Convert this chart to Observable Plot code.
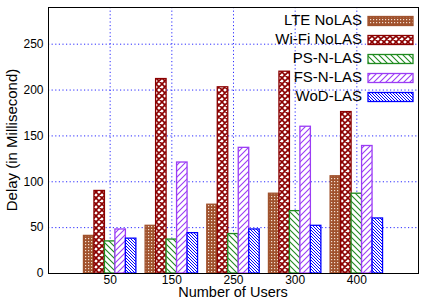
<!DOCTYPE html>
<html>
<head>
<meta charset="utf-8">
<script src="https://cdn.jsdelivr.net/npm/d3@7"></script>
<script src="https://cdn.jsdelivr.net/npm/@observablehq/plot@0.6"></script>
<style>
  html, body { margin: 0; padding: 0; background: #fff; }
  #chart { width: 423px; height: 300px; }
</style>
</head>
<body>
<div id="chart"></div>
<script>
// ---- data ----
const categories = ["50", "150", "250", "300", "400"];
const seriesNames = ["LTE NoLAS", "Wi-Fi NoLAS", "PS-N-LAS", "FS-N-LAS", "WoD-LAS"];
const lteNoLAS   = [41, 52, 75, 87, 106];
const wifiNoLAS  = [90, 212, 203, 220, 176];
const psNLAS     = [35, 37, 43, 68, 87];
const fsNLAS     = [48, 121, 137, 160, 139];
const wodLAS     = [38, 44, 48, 52, 60];
const yTicks = [0, 50, 100, 150, 200, 250];

const seriesValues = [lteNoLAS, wifiNoLAS, psNLAS, fsNLAS, wodLAS];
const seriesColors = ["#a0522d", "#8b0000", "#1f8a1f", "#9b3cf5", "#0000ff"];
const seriesPatterns = ["url(#p-lte)", "url(#p-wifi)", "url(#p-ps)", "url(#p-fs)", "url(#p-wod)"];

const rows = categories.flatMap((c, ci) =>
  seriesNames.map((s, si) => ({ci, si, cat: c, series: s, value: seriesValues[si][ci]}))
);

const groupWidth = 0.85;
const barW = groupWidth / seriesNames.length;

const W = 423, H = 300;
const mL = 48, mR = 5, mT = 7, mB = 27;

const plot = Plot.plot({
  width: W,
  height: H,
  marginLeft: mL,
  marginRight: mR,
  marginTop: mT,
  marginBottom: mB,
  style: {fontFamily: "'Liberation Sans', Arial, sans-serif", fontSize: "12px", background: "white", color: "black"},
  x: {domain: [-1, categories.length], ticks: categories.map((_, i) => i), tickFormat: i => categories[i], tickSize: 0, tickPadding: 2, label: null},
  y: {domain: [0, 290], ticks: yTicks, tickSize: 0, tickPadding: 5, label: null},
  color: {type: "identity"},
  marks: [
    Plot.ruleY(yTicks.filter(v => v > 0), {stroke: "#2b2bff", strokeDasharray: "1.2,2.4", strokeWidth: 1}),
    Plot.ruleX(categories.map((_, i) => i), {stroke: "#2b2bff", strokeDasharray: "1.2,2.4", strokeWidth: 1}),
    Plot.rectY(rows, {
      x1: d => d.ci - groupWidth / 2 + d.si * barW,
      x2: d => d.ci - groupWidth / 2 + (d.si + 1) * barW,
      y1: 0,
      y2: "value",
      fill: d => seriesPatterns[d.si],
      stroke: d => seriesColors[d.si],
      strokeWidth: 1.3
    }),
    Plot.frame({stroke: "black", strokeWidth: 1})
  ]
});

const svg = d3.select(plot);
const defs = svg.insert("defs", ":first-child");

// LTE: brown with light dots
let p = defs.append("pattern").attr("id", "p-lte").attr("patternUnits", "userSpaceOnUse").attr("width", 3).attr("height", 3);
p.append("rect").attr("width", 3).attr("height", 3).attr("fill", "#a0522d");
p.append("rect").attr("x", 1).attr("y", 1).attr("width", 1.2).attr("height", 1.2).attr("fill", "#f3ddd0");

// Wi-Fi: dark red crosshatch on white
p = defs.append("pattern").attr("id", "p-wifi").attr("patternUnits", "userSpaceOnUse").attr("width", 6).attr("height", 6);
p.append("rect").attr("width", 6).attr("height", 6).attr("fill", "white");
p.append("path").attr("d", "M0,0L6,6M6,0L0,6M-1,5L1,7M5,-1L7,1M-1,1L1,-1M5,7L7,5").attr("stroke", "#8b0000").attr("stroke-width", 1.6);

// PS: green "\" lines
p = defs.append("pattern").attr("id", "p-ps").attr("patternUnits", "userSpaceOnUse").attr("width", 6).attr("height", 6);
p.append("rect").attr("width", 6).attr("height", 6).attr("fill", "white");
p.append("path").attr("d", "M0,0L6,6M-1,5L1,7M5,-1L7,1").attr("stroke", "#1f8a1f").attr("stroke-width", 1.1);

// FS: purple "/" lines
p = defs.append("pattern").attr("id", "p-fs").attr("patternUnits", "userSpaceOnUse").attr("width", 6).attr("height", 6);
p.append("rect").attr("width", 6).attr("height", 6).attr("fill", "white");
p.append("path").attr("d", "M6,0L0,6M-1,1L1,-1M5,7L7,5").attr("stroke", "#9b3cf5").attr("stroke-width", 1.1);

// WoD: dense blue "\" lines
p = defs.append("pattern").attr("id", "p-wod").attr("patternUnits", "userSpaceOnUse").attr("width", 3).attr("height", 3);
p.append("rect").attr("width", 3).attr("height", 3).attr("fill", "white");
p.append("path").attr("d", "M0,0L3,3M-1,2L1,4M2,-1L4,1").attr("stroke", "#0000ff").attr("stroke-width", 1);

// Axis titles
const font = "'Liberation Sans', Arial, sans-serif";
svg.append("text").attr("x", (mL + W - mR) / 2).attr("y", 293.5).attr("text-anchor", "middle")
  .attr("dominant-baseline", "middle").attr("font-family", font).attr("font-size", 14.5).attr("fill", "black")
  .text("Number of Users");
svg.append("text").attr("transform", `translate(13,${(mT + H - mB) / 2}) rotate(-90)`).attr("text-anchor", "middle")
  .attr("dominant-baseline", "middle").attr("font-family", font).attr("font-size", 15).attr("fill", "black")
  .text("Delay (in Millisecond)");

// Legend (inside top-right)
const lg = svg.append("g");
seriesNames.forEach((name, i) => {
  const cy = 21 + i * 19;
  lg.append("text").attr("x", 362).attr("y", cy).attr("text-anchor", "end").attr("dominant-baseline", "middle")
    .attr("font-family", font).attr("font-size", 15).attr("fill", "black").text(name);
  lg.append("rect").attr("x", 368).attr("y", cy - 4.5).attr("width", 45).attr("height", 9)
    .attr("fill", seriesPatterns[i]).attr("stroke", seriesColors[i]).attr("stroke-width", 1.3);
});

document.getElementById("chart").appendChild(plot);
</script>
</body>
</html>
